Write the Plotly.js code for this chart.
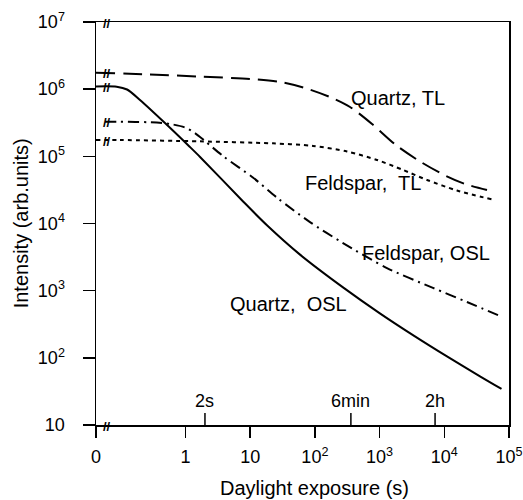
<!DOCTYPE html>
<html><head><meta charset="utf-8">
<script src="https://cdn.plot.ly/plotly-3.0.1.min.js"></script>
<style>html,body{margin:0;padding:0;background:#fff}#chart{width:523px;height:500px}</style>
</head><body><div id="chart"></div>
<script>
// ---- data ----
const quartzOslTime = [0, 0.0864, 0.125, 0.198, 0.482, 1.17, 1.68, 7.39, 18.0, 58.9, 272, 1010, 3280, 11000, 35600, 76600];
const quartzOslInt  = [1.10e6, 1.09e6, 9.89e5, 6.90e5, 3.13e5, 1.38e5, 9.8e4, 2.24e4, 9.5e3, 3.44e3, 1.12e3, 460, 218, 105, 53, 34.4];

const quartzTlTime = [0, 0.283, 1.68, 9.93, 28.9, 70.4, 171, 349, 764, 1790, 4220, 10300, 20900, 45700];
const quartzTlInt  = [1.76e6, 1.65e6, 1.54e6, 1.42e6, 1.28e6, 1.04e6, 7.64e5, 5.43e5, 3.03e5, 1.47e5, 8.38e4, 5.19e4, 3.88e4, 3.15e4];

const feldOslTime = [0.057, 0.0972, 0.283, 0.575, 0.982, 1.40, 2.00, 3.80, 11.0, 26.9, 84, 272, 1300, 6680, 22400, 77100];
const feldOslInt  = [3.28e5, 3.28e5, 3.21e5, 3.03e5, 2.69e5, 2.22e5, 1.69e5, 1.01e5, 4.84e4, 2.36e4, 1.05e4, 5.12e3, 2.17e3, 1.10e3, 678, 410];

const feldTlTime = [0, 0.0972, 1.68, 22.5, 93.5, 313, 911, 2300, 5410, 15700, 54000];
const feldTlInt  = [1.75e5, 1.75e5, 1.67e5, 1.56e5, 1.43e5, 1.18e5, 8.83e4, 6.27e4, 4.45e4, 3.10e4, 2.29e4];

const seriesNames = ['Quartz, OSL', 'Quartz, TL', 'Feldspar, OSL', 'Feldspar, TL'];

const xTickVals = [0, 1, 10, 100, 1000, 10000, 100000];
const xTickText = ['0', '1', '10', '10<sup>2</sup>', '10<sup>3</sup>', '10<sup>4</sup>', '10<sup>5</sup>'];
const yTickVals = [10, 100, 1000, 10000, 100000, 1000000, 10000000];
const yTickText = ['10', '10<sup>2</sup>', '10<sup>3</sup>', '10<sup>4</sup>', '10<sup>5</sup>', '10<sup>6</sup>', '10<sup>7</sup>'];

const markTimes  = [2, 360, 7200];
const markLabels = ['2s', '6min', '2h'];

// ---- broken axis: "0" drawn at the left edge ----
const X_ZERO_LOG = -1.383;
const X_ZERO = Math.pow(10, X_ZERO_LOG);
const toX = arr => arr.map(v => v === 0 ? X_ZERO : v);
const BREAK_X_LOG = -1.21;

const FONT = 'Liberation Sans, Arial, Helvetica, sans-serif';

function trace(t, y, dash, name) {
  return {x: toX(t), y: y, mode: 'lines', name: name, showlegend: false,
    line: {color: '#000', width: 2, dash: dash, shape: 'spline', smoothing: 0.8},
    hoverinfo: 'skip'};
}
const data = [
  trace(quartzOslTime, quartzOslInt, 'solid', seriesNames[0]),
  trace(quartzTlTime, quartzTlInt, '19px,8px', seriesNames[1]),
  trace(feldOslTime, feldOslInt, '11px,5px,2px,5px', seriesNames[2]),
  trace(feldTlTime, feldTlInt, '4px,4px', seriesNames[3])
];

const annotations = [];
// break marks "//" on the axes and at the start of each curve
function breakMark(yref, yval) {
  annotations.push({x: BREAK_X_LOG, xref: 'x', y: yval, yref: yref, text: '<b>//</b>', showarrow: false,
    xanchor: 'center', yanchor: 'middle', yshift: -1, font: {size: 13, family: FONT, color: '#000'}});
}
breakMark('paper', 0);
breakMark('paper', 1);
[quartzOslInt[0], quartzTlInt[0], feldOslInt[0], feldTlInt[0]].forEach(v => breakMark('y', Math.log10(v)));

// inner ticks for 2s / 6min / 2h
const shapes = markTimes.map(t => ({type: 'line', xref: 'x', x0: t, x1: t, yref: 'paper', ysizemode: 'pixel',
  yanchor: 0, y0: 0, y1: 12, line: {color: '#000', width: 1.5}}));

markTimes.forEach((t, i) => annotations.push({
  x: Math.log10(t), xref: 'x', y: 0, yref: 'paper', yanchor: 'bottom', yshift: 12,
  text: markLabels[i], showarrow: false, font: {size: 18, family: FONT, color: '#000'}
}));
const labelPos = [
  {x: 0.465, y: 0.300, text: 'Quartz,\u00a0 OSL'},
  {x: 0.731, y: 0.811, text: 'Quartz, TL'},
  {x: 0.799, y: 0.427, text: 'Feldspar, OSL'},
  {x: 0.646, y: 0.600, text: 'Feldspar,\u00a0 TL'}
];
labelPos.forEach(p => annotations.push({
  x: p.x, y: p.y, xref: 'paper', yref: 'paper', text: p.text, showarrow: false,
  xanchor: 'center', yanchor: 'middle', font: {size: 20, family: FONT, color: '#000'}
}));
// axis titles
annotations.push({x: 0.529, y: -0.156, xref: 'paper', yref: 'paper', xanchor: 'center', yanchor: 'middle',
  text: 'Daylight exposure (s)', showarrow: false, font: {size: 20, family: FONT, color: '#000'}});
annotations.push({x: -0.182, y: 0.5, xref: 'paper', yref: 'paper', xanchor: 'center', yanchor: 'middle',
  textangle: -90, text: 'Intensity (arb.units)', showarrow: false, font: {size: 20, family: FONT, color: '#000'}});

const layout = {
  width: 523, height: 500,
  margin: {l: 96, r: 14, t: 22, b: 75},
  paper_bgcolor: '#fff', plot_bgcolor: '#fff',
  font: {family: FONT, color: '#000'},
  xaxis: {
    type: 'log', range: [X_ZERO_LOG, 5],
    tickvals: toX(xTickVals), ticktext: xTickText,
    ticks: 'outside', ticklen: 11, tickwidth: 1.5, tickcolor: '#000',
    showline: true, linewidth: 1.5, linecolor: '#000', mirror: true,
    showgrid: false, zeroline: false,
    tickfont: {size: 18, family: FONT, color: '#000'},
    ticklabelstandoff: 4
  },
  yaxis: {
    type: 'log', range: [1, 7],
    tickvals: yTickVals, ticktext: yTickText,
    ticks: 'outside', ticklen: 12, tickwidth: 1.5, tickcolor: '#000',
    showline: true, linewidth: 1.5, linecolor: '#000', mirror: true,
    showgrid: false, zeroline: false,
    tickfont: {size: 18, family: FONT, color: '#000'},
    ticklabelstandoff: 14
  },
  shapes: shapes,
  annotations: annotations
};

Plotly.newPlot('chart', data, layout, {staticPlot: true, displayModeBar: false});
</script>
</body></html>
